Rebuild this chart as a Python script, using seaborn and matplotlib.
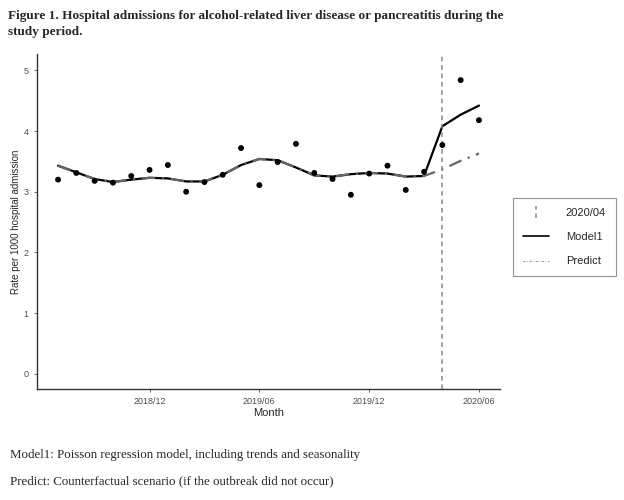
import numpy as np
import pandas as pd
import matplotlib
matplotlib.use('Agg')
import matplotlib.pyplot as plt
import seaborn as sns
from matplotlib.lines import Line2D
from matplotlib.legend_handler import HandlerBase

# data (monthly, 2018/07 - 2020/06)
months = ['2018/07', '2018/08', '2018/09', '2018/10', '2018/11', '2018/12',
          '2019/01', '2019/02', '2019/03', '2019/04', '2019/05', '2019/06',
          '2019/07', '2019/08', '2019/09', '2019/10', '2019/11', '2019/12',
          '2020/01', '2020/02', '2020/03', '2020/04', '2020/05', '2020/06']
observed = [3.20, 3.31, 3.18, 3.15, 3.26, 3.36, 3.44, 3.00, 3.16, 3.28, 3.72, 3.11,
            3.49, 3.79, 3.31, 3.21, 2.95, 3.30, 3.43, 3.03, 3.33, 3.77, 4.84, 4.18]
model1 = [3.43, 3.32, 3.21, 3.16, 3.20, 3.23, 3.22, 3.17, 3.17, 3.28, 3.44, 3.54,
          3.52, 3.40, 3.27, 3.25, 3.29, 3.31, 3.30, 3.25, 3.26, 4.08, 4.27, 4.42]
predict = [3.43, 3.32, 3.21, 3.16, 3.20, 3.23, 3.22, 3.17, 3.17, 3.28, 3.44, 3.54,
           3.52, 3.40, 3.27, 3.25, 3.29, 3.31, 3.30, 3.25, 3.26, 3.37, 3.51, 3.63]
tick_labels = ['2018/12', '2019/06', '2019/12', '2020/06']
break_month = '2020/04'

df = pd.DataFrame({'month': months, 'observed': observed,
                   'model1': model1, 'predict': predict})
df['t'] = np.arange(len(df))

VLINE_STYLE = dict(color='#888888', linewidth=1.1, linestyle=(0, (3, 2.5)))


class VLineHandler(HandlerBase):
    # vertical dashed key, like ggplot's geom_vline legend
    def create_artists(self, legend, orig_handle, xdescent, ydescent,
                       width, height, fontsize, trans):
        x = width / 2 - xdescent
        line = Line2D([x, x], [-ydescent - 0.25 * height, height * 1.25 - ydescent],
                      transform=trans, **VLINE_STYLE)
        return [line]


sns.set_style('ticks')
plt.rcParams['font.family'] = ['Liberation Sans', 'DejaVu Sans']

fig = plt.figure(figsize=(6.24, 5.0), dpi=100)
ax = fig.add_axes([0.0593, 0.222, 0.742, 0.670])

sns.lineplot(data=df, x='t', y='model1', color='black', linewidth=1.6, ax=ax)
sns.lineplot(data=df, x='t', y='predict', color='#666666', linewidth=1.6,
             linestyle=(0, (6, 3, 1, 3)), ax=ax)
sns.scatterplot(data=df, x='t', y='observed', color='black', s=18,
                edgecolor='none', ax=ax, zorder=5)
ax.axvline(months.index(break_month), **VLINE_STYLE)

n = len(months)
pad = (n - 1) * 0.05
ax.set_xlim(-pad, n - 1 + pad)
ax.set_ylim(-0.25, 5.27)
ax.set_xticks([months.index(m) for m in tick_labels])
ax.set_xticklabels(tick_labels)
ax.set_yticks([0, 1, 2, 3, 4, 5])
ax.tick_params(axis='both', labelsize=6.5, colors='#4d4d4d', length=2.5, width=0.6)
ax.set_xlabel('Month', fontsize=8, labelpad=1)
ax.set_ylabel('Rate per 1000 hospital admission', fontsize=7, labelpad=2)
sns.despine(ax=ax)
for side in ['left', 'bottom']:
    ax.spines[side].set_linewidth(1.0)
    ax.spines[side].set_color('#333333')

vkey = Line2D([], [], **VLINE_STYLE)
handles = [
    vkey,
    Line2D([0], [0], color='black', linewidth=1.2),
    Line2D([0], [0], color='#999999', linewidth=0.8, linestyle=(0, (2, 1.5, 0.5, 1.5))),
]
leg = fig.legend(handles, ['2020/04', 'Model1', 'Predict'],
                 loc='upper left', bbox_to_anchor=(0.8125, 0.616),
                 fontsize=8, frameon=True, fancybox=False, edgecolor='#777777',
                 handlelength=2.4, handletextpad=1.5, labelspacing=1.3,
                 borderpad=0.9, handler_map={vkey: VLineHandler()})
leg.get_frame().set_linewidth(0.8)

fig.text(0.013, 0.981, 'Figure 1. Hospital admissions for alcohol-related liver disease or pancreatitis during the\nstudy period.',
         family=['Liberation Serif', 'DejaVu Serif'], fontweight='bold', fontsize=9.5,
         va='top', ha='left', linespacing=1.45)
fig.text(0.016, 0.09, 'Model1: Poisson regression model, including trends and seasonality',
         family=['Liberation Serif', 'DejaVu Serif'], fontsize=9.3, va='center')
fig.text(0.016, 0.038, 'Predict: Counterfactual scenario (if the outbreak did not occur)',
         family=['Liberation Serif', 'DejaVu Serif'], fontsize=9.3, va='center')

fig.savefig('out.png', dpi=100)
